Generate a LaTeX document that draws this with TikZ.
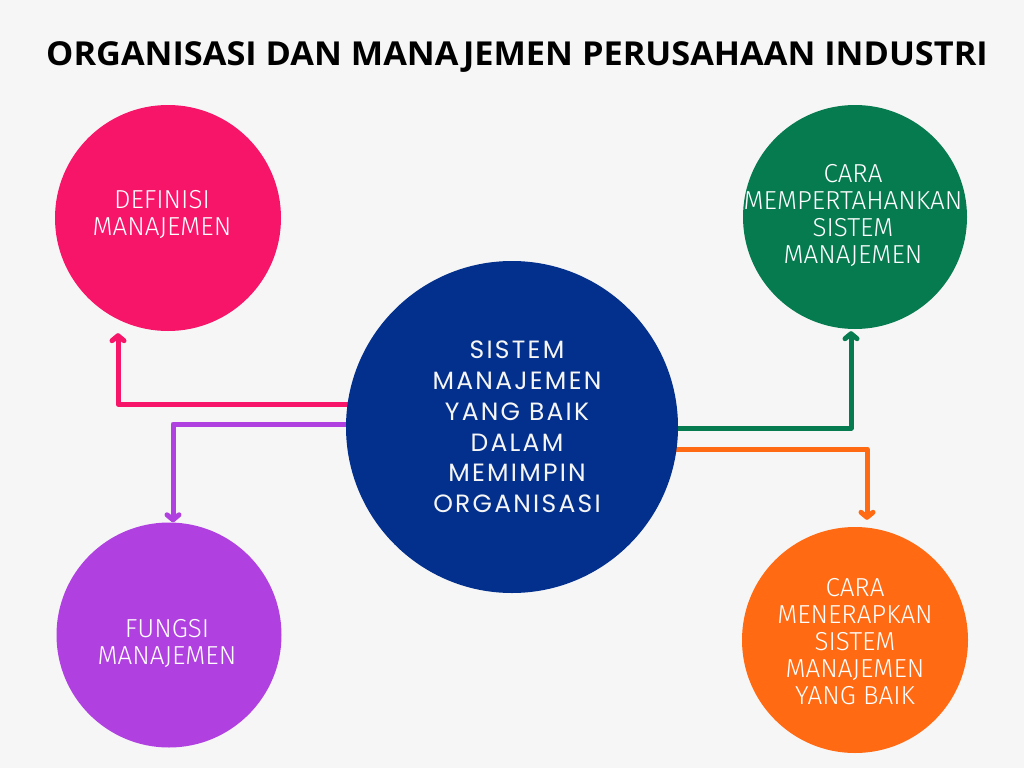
\documentclass[tikz,border=0pt]{standalone}
\usepackage{fontspec}
\setmainfont{Open Sans}
\newfontfamily\titlefont{Open Sans}
\newfontfamily\thinfont{Fira Sans Light}
\newfontfamily\ctrfont[LetterSpace=9]{Poppins}
\usetikzlibrary{arrows.meta}
\definecolor{bg}{HTML}{F6F6F6}
\definecolor{cpink}{HTML}{F7156A}
\definecolor{cgreen}{HTML}{077B50}
\definecolor{cblue}{HTML}{03308C}
\definecolor{cpurple}{HTML}{B041E0}
\definecolor{corange}{HTML}{FF6A13}
\pgfdeclarelayer{back}
\pgfsetlayers{back,main}
\tikzset{
  blob/.style={circle, inner sep=0pt, minimum size=#1},
  thintext/.style={text=white, align=center, font=\thinfont\fontsize{26}{27}\selectfont},
  ctrtext/.style={text=bg, align=center, font=\ctrfont\fontsize{25}{30.8}\selectfont},
  link/.style={line width=5pt, line cap=round, line join=round, -{Straight Barb[length=5pt,width=12pt,round]}}
}
\begin{document}
\begin{tikzpicture}[x=1pt,y=-1pt]
\useasboundingbox (0,0) rectangle (1024,768);
\begin{pgfonlayer}{back}
\fill[bg] (0,0) rectangle (1024,768);
\end{pgfonlayer}
\node[font=\titlefont\bfseries\fontsize{33}{35}\selectfont] (title) at (517,57) {\scalebox{1.04}[1]{ORGANISASI DAN MANAJEMEN PERUSAHAAN INDUSTRI}};
% circles
\node[blob=226pt, fill=cpink] (def) at (168,218) {};
\node[blob=224pt, fill=cgreen] (cara) at (855,217) {};
\node[blob=332pt, fill=cblue] (ctr) at (512,427) {};
\node[blob=225pt, fill=cpurple] (fun) at (169,635) {};
\node[blob=226pt, fill=corange] (ter) at (855,640) {};
% texts
\node[thintext] (tdef) at (162,214) {DEFINISI\\MANAJEMEN};
\node[thintext] (tcara) at (853,215) {CARA\\MEMPERTAHANKAN\\SISTEM\\MANAJEMEN};
\node[thintext] (tfun) at (167,643) {FUNGSI\\MANAJEMEN};
\node[thintext] (tter) at (855,642) {CARA\\MENERAPKAN\\SISTEM\\MANAJEMEN\\YANG BAIK};
\node[ctrtext] (tctr) at (517,427) {SISTEM\\MANAJEMEN\\YANG BAIK\\DALAM\\MEMIMPIN\\ORGANISASI};
% connectors
\begin{pgfonlayer}{back}
\draw[link, cpink] (ctr.center |- 0,404) -| ([yshift=-2pt]def.south -| 118,0);
\draw[link, cpurple] (ctr.center |- 0,424) -| (fun.north -| 173,0);
\draw[link, cgreen] (ctr.center |- 0,428) -| ([yshift=-2pt]cara.south -| 851,0);
\draw[link, corange] (ctr.center |- 0,449) -| ([yshift=7pt]ter.north -| 867,0);
\end{pgfonlayer}
\end{tikzpicture}
\end{document}
